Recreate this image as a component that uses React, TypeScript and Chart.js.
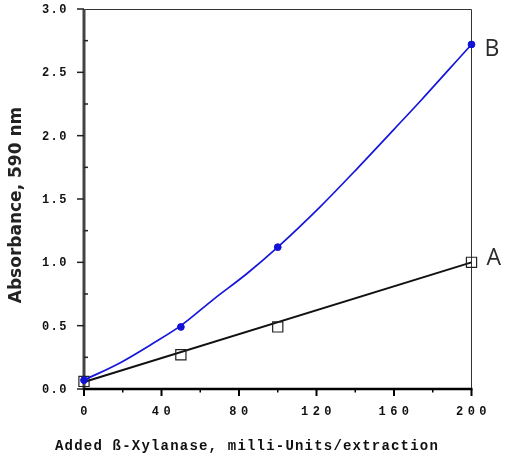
import React, { useEffect, useRef } from "react";
import { Chart, registerables } from "chart.js";

Chart.register(...registerables);

const xTicks = [0, 40, 80, 120, 160, 200];
const xTickLabels = ["0", "40", "80", "120", "160", "200"];
const xMinor = [20, 60, 100, 140, 180];
const yTicks = [0, 0.5, 1, 1.5, 2, 2.5, 3];
const yTickLabels = ["0.0", "0.5", "1.0", "1.5", "2.0", "2.5", "3.0"];
const yMinor = [0.25, 0.75, 1.25, 1.75, 2.25, 2.75];

const seriesAX = [0, 50, 100, 200];
const seriesAY = [0.06, 0.27, 0.49, 1.0];
const fitAX = [0, 200];
const fitAY = [0.055, 1.0];

const seriesBX = [0, 50, 100, 200];
const seriesBY = [0.07, 0.49, 1.12, 2.72];
const curveBX = [0, 19, 34.5, 50, 67, 84, 100, 122, 141, 160, 174, 200, 203];
const curveBY = [0.07, 0.21, 0.35, 0.5, 0.71, 0.91, 1.12, 1.44, 1.74, 2.05, 2.28, 2.72, 2.77];

const xTitle = "Added ß-Xylanase, milli-Units/extraction";
const yTitle = "Absorbance, 590 nm";
const labelA = "A";
const labelB = "B";

const toPts = (xs: number[], ys: number[]) => xs.map((x, i) => ({ x, y: ys[i] }));

const axesPlugin = {
  id: "axesDraw",
  beforeDatasetsDraw(chart: any) {
    const { ctx, chartArea, scales } = chart;
    const { left, right, top, bottom } = chartArea;
    const x = scales.x;
    const y = scales.y;
    ctx.save();
    ctx.strokeStyle = "#333";
    ctx.lineWidth = 1;
    ctx.beginPath();
    ctx.moveTo(left, top + 0.5);
    ctx.lineTo(right, top + 0.5);
    ctx.lineTo(right, bottom);
    ctx.stroke();
    ctx.strokeStyle = "#444";
    ctx.lineWidth = 3;
    ctx.beginPath();
    ctx.moveTo(left, top);
    ctx.lineTo(left, bottom + 1);
    ctx.stroke();
    ctx.strokeStyle = "#000";
    ctx.lineWidth = 2.5;
    ctx.beginPath();
    ctx.moveTo(left - 1, bottom);
    ctx.lineTo(right + 1, bottom);
    ctx.stroke();
    ctx.lineWidth = 1.5;
    ctx.strokeStyle = "#222";
    for (const v of yTicks) {
      const py = y.getPixelForValue(v);
      ctx.beginPath();
      ctx.moveTo(left - 7, py);
      ctx.lineTo(left, py);
      ctx.stroke();
    }
    for (const v of yMinor) {
      const py = y.getPixelForValue(v);
      ctx.beginPath();
      ctx.moveTo(left, py);
      ctx.lineTo(left + 4, py);
      ctx.stroke();
    }
    ctx.strokeStyle = "#000";
    ctx.lineWidth = 2;
    for (const v of xTicks) {
      const px = x.getPixelForValue(v);
      ctx.beginPath();
      ctx.moveTo(px, bottom);
      ctx.lineTo(px, bottom + 7);
      ctx.stroke();
    }
    ctx.lineWidth = 1.5;
    for (const v of xMinor) {
      const px = x.getPixelForValue(v);
      ctx.beginPath();
      ctx.moveTo(px, bottom);
      ctx.lineTo(px, bottom + 3.5);
      ctx.stroke();
    }
    ctx.restore();
  },
  afterDraw(chart: any) {
    const { ctx, chartArea, scales } = chart;
    const { left, right, bottom } = chartArea;
    const x = scales.x;
    const y = scales.y;
    ctx.save();
    ctx.fillStyle = "#111";
    ctx.font = "bold 12px 'Liberation Mono', 'DejaVu Sans Mono', monospace";
    (ctx as any).letterSpacing = "1.5px";
    ctx.textAlign = "right";
    ctx.textBaseline = "middle";
    yTicks.forEach((v, i) => {
      ctx.fillText(yTickLabels[i], left - 16, y.getPixelForValue(v) + 1);
    });
    (ctx as any).letterSpacing = "4.5px";
    ctx.textAlign = "center";
    xTicks.forEach((v, i) => {
      ctx.fillText(xTickLabels[i], x.getPixelForValue(v) + 2, bottom + 23);
    });
    ctx.font = "bold 14px 'Liberation Mono', 'DejaVu Sans Mono', monospace";
    (ctx as any).letterSpacing = "1.2px";
    ctx.textAlign = "center";
    ctx.fillText(xTitle, 247, 446);
    (ctx as any).letterSpacing = "0px";
    ctx.font = "bold 17px 'DejaVu Sans', sans-serif";
    ctx.save();
    ctx.translate(17, 205);
    ctx.rotate(-Math.PI / 2);
    ctx.textAlign = "center";
    ctx.textBaseline = "middle";
    ctx.fillStyle = "#222";
    ctx.fillText(yTitle, 0, 0);
    ctx.restore();
    ctx.font = "23px 'Open Sans', 'DejaVu Sans', sans-serif";
    ctx.fillStyle = "#2a2a2a";
    ctx.textAlign = "left";
    ctx.textBaseline = "middle";
    ctx.fillText(labelB, right + 13, y.getPixelForValue(seriesBY[3]) + 5);
    ctx.fillText(labelA, right + 15, y.getPixelForValue(seriesAY[3]) - 4);
    ctx.restore();
  },
};

export default function App() {
  const ref = useRef<HTMLCanvasElement>(null);
  useEffect(() => {
    const canvas = ref.current;
    if (!canvas) return;
    const chart = new Chart(canvas, {
      type: "scatter",
      data: {
        datasets: [
          {
            label: "B",
            data: toPts(seriesBX, seriesBY),
            showLine: false,
            pointStyle: "circle",
            pointRadius: 3.4,
            backgroundColor: "#1212d6",
            borderColor: "#1212d6",
            borderWidth: 1,
            clip: false,
          } as any,
          {
            label: "B curve",
            data: toPts(curveBX, curveBY),
            showLine: true,
            pointRadius: 0,
            borderColor: "#1515dc",
            borderWidth: 1.7,
            cubicInterpolationMode: "monotone",
            clip: false,
          } as any,
          {
            label: "A",
            data: toPts(seriesAX, seriesAY),
            showLine: false,
            pointStyle: "rect",
            pointRadius: 7.2,
            backgroundColor: "rgba(255,255,255,0)",
            borderColor: "#222",
            borderWidth: 1.2,
            clip: false,
          } as any,
          {
            label: "A fit",
            data: toPts(fitAX, fitAY),
            showLine: true,
            pointRadius: 0,
            borderColor: "#111",
            borderWidth: 2,
            clip: false,
          } as any,
        ],
      },
      options: {
        responsive: false,
        animation: false,
        events: [],
        layout: { padding: { left: 84, top: 9, right: 37.5, bottom: 72 } },
        plugins: { legend: { display: false }, tooltip: { enabled: false } },
        scales: {
          x: { type: "linear", min: 0, max: 200, display: false },
          y: { type: "linear", min: 0, max: 3, display: false },
        },
      },
      plugins: [axesPlugin],
    });
    return () => chart.destroy();
  }, []);
  return (
    <div style={{ position: "absolute", left: 0, top: 0, width: 509, height: 461, background: "#fff" }}>
      <canvas ref={ref} width={509} height={461} style={{ display: "block" }} />
    </div>
  );
}
